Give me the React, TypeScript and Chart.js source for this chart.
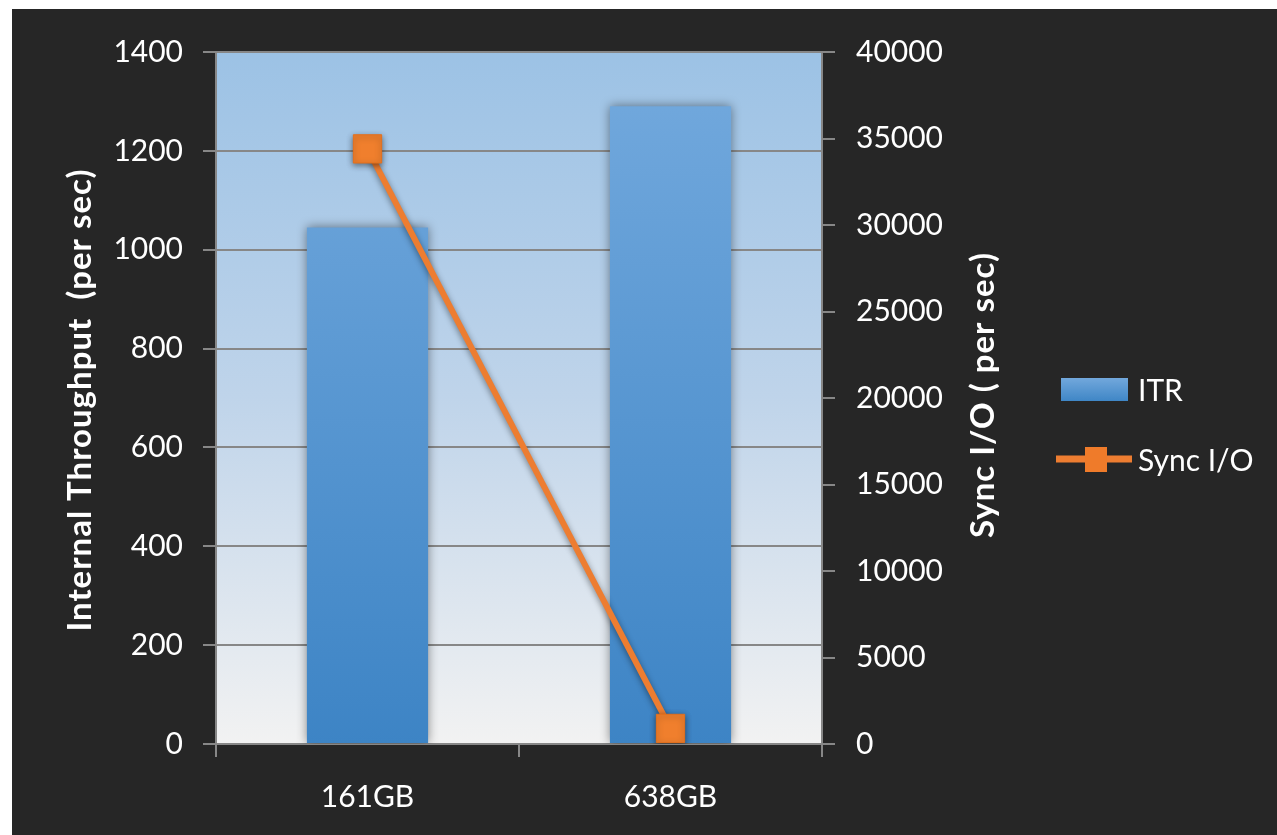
import React, { useEffect, useRef } from "react";
import { Chart, registerables } from "chart.js";

Chart.register(...registerables);

const categories = ["161GB", "638GB"];
const itrValues = [1045, 1290];
const syncIoValues = [34400, 900];
const leftTicks = [0, 200, 400, 600, 800, 1000, 1200, 1400];
const rightTicks = [0, 5000, 10000, 15000, 20000, 25000, 30000, 35000, 40000];

const W = 1265;
const H = 826;
const FONT = "Lato, 'Open Sans', sans-serif";
const GRID = "#878787";

const plotBg = {
  id: "plotBg",
  beforeDraw(chart: any) {
    const { ctx, chartArea: a } = chart;
    if (!a) return;
    const g = ctx.createLinearGradient(0, a.top, 0, a.bottom);
    g.addColorStop(0, "#9CC2E5");
    g.addColorStop(0.5, "#BFD4EA");
    g.addColorStop(1, "#F2F2F2");
    ctx.save();
    ctx.fillStyle = g;
    ctx.fillRect(a.left, a.top, a.right - a.left, a.bottom - a.top);
    ctx.restore();
  },
};

const shadows = {
  id: "shadows",
  beforeDatasetDraw(chart: any, args: any) {
    const ctx = chart.ctx;
    ctx.save();
    ctx.shadowColor = "rgba(0,0,0,0.45)";
    ctx.shadowBlur = args.index === 0 ? 10 : 6;
    ctx.shadowOffsetX = 0;
    ctx.shadowOffsetY = args.index === 0 ? 0 : 2;
  },
  afterDatasetDraw(chart: any) {
    chart.ctx.restore();
  },
};

const extras = {
  id: "extras",
  afterDraw(chart: any) {
    const { ctx } = chart;
    ctx.save();
    ctx.fillStyle = "#FFFFFF";
    ctx.textAlign = "center";
    ctx.textBaseline = "middle";
    ctx.font = `bold 33px ${FONT}`;
    try {
      (ctx as any).letterSpacing = "1px";
    } catch (e) {}
    ctx.save();
    ctx.translate(68, 391);
    ctx.rotate(-Math.PI / 2);
    ctx.fillText("Internal Throughput  (per sec)", 0, 0);
    ctx.restore();
    ctx.save();
    ctx.translate(971, 386);
    ctx.rotate(-Math.PI / 2);
    ctx.fillText("Sync I/O ( per sec)", 0, 0);
    ctx.restore();
    try {
      (ctx as any).letterSpacing = "0px";
    } catch (e) {}

    ctx.textAlign = "left";
    ctx.font = `30px ${FONT}`;
    const g = ctx.createLinearGradient(0, 369, 0, 392);
    g.addColorStop(0, "#72A8DC");
    g.addColorStop(1, "#3F86C6");
    ctx.fillStyle = g;
    ctx.fillRect(1049, 369, 67, 23);
    ctx.fillStyle = "#FFFFFF";
    ctx.fillText("ITR", 1126, 382);

    ctx.strokeStyle = "#ED7D31";
    ctx.lineWidth = 7;
    ctx.beginPath();
    ctx.moveTo(1044, 450);
    ctx.lineTo(1120, 450);
    ctx.stroke();
    ctx.fillStyle = "#EF7B2A";
    ctx.fillRect(1073, 438, 22, 25);
    ctx.fillStyle = "#FFFFFF";
    ctx.fillText("Sync I/O", 1126, 452);
    ctx.restore();
  },
};

export default function App() {
  const ref = useRef<HTMLCanvasElement | null>(null);

  useEffect(() => {
    if (!ref.current) return;
    const chart = new Chart(ref.current, {
      data: {
        labels: categories,
        datasets: [
          {
            type: "bar",
            label: "ITR",
            data: itrValues,
            yAxisID: "y",
            order: 1,
            barPercentage: 0.4,
            categoryPercentage: 1,
            backgroundColor: (c: any) => {
              const a = c.chart.chartArea;
              if (!a) return "#5B9BD5";
              const g = c.chart.ctx.createLinearGradient(0, a.top, 0, a.bottom);
              g.addColorStop(0, "#74AADE");
              g.addColorStop(1, "#3D84C5");
              return g;
            },
            borderWidth: 0,
          },
          {
            type: "line",
            label: "Sync I/O",
            data: syncIoValues,
            yAxisID: "y1",
            order: 0,
            borderColor: "#ED7D31",
            borderWidth: 6,
            pointStyle: "rect",
            pointRadius: 20,
            pointBackgroundColor: "#F07F2D",
            pointBorderColor: "#E5701C",
            pointBorderWidth: 1,
            tension: 0,
          },
        ],
      } as any,
      options: {
        animation: false,
        responsive: false,
        maintainAspectRatio: false,
        layout: { padding: { top: 43, left: 0, right: 0, bottom: 0 } },
        plugins: {
          legend: { display: false },
          tooltip: { enabled: false },
          title: { display: false },
        },
        scales: {
          x: {
            offset: true,
            afterFit: (s: any) => {
              s.height = 91;
            },
            grid: {
              offset: true,
              drawOnChartArea: false,
              drawTicks: true,
              tickLength: 13,
              color: GRID,
              lineWidth: 2,
            },
            border: { display: true, color: GRID, width: 2 },
            ticks: {
              color: "#FFFFFF",
              font: { family: FONT, size: 30 },
              padding: 22,
            },
          },
          y: {
            position: "left",
            min: 0,
            max: 1400,
            afterFit: (s: any) => {
              s.width = 204;
            },
            afterBuildTicks: (s: any) => {
              s.ticks = leftTicks.map((v) => ({ value: v }));
            },
            grid: {
              drawOnChartArea: true,
              drawTicks: true,
              tickLength: 13,
              color: GRID,
              lineWidth: 2,
            },
            border: { display: true, color: GRID, width: 2 },
            ticks: {
              color: "#FFFFFF",
              font: { family: FONT, size: 30 },
              padding: 20,
              callback: (v: any) => String(v),
            },
          },
          y1: {
            position: "right",
            min: 0,
            max: 40000,
            afterFit: (s: any) => {
              s.width = 455;
            },
            afterBuildTicks: (s: any) => {
              s.ticks = rightTicks.map((v) => ({ value: v }));
            },
            grid: {
              drawOnChartArea: false,
              drawTicks: true,
              tickLength: 13,
              color: GRID,
              lineWidth: 2,
            },
            border: { display: true, color: GRID, width: 2 },
            ticks: {
              color: "#FFFFFF",
              font: { family: FONT, size: 30 },
              padding: 21,
              callback: (v: any) => String(v),
            },
          },
        },
      } as any,
      plugins: [plotBg, shadows, extras],
    });
    return () => chart.destroy();
  }, []);

  return (
    <div
      style={{
        position: "absolute",
        left: 12,
        top: 9,
        width: W,
        height: H,
        background: "#262626",
      }}
    >
      <canvas ref={ref} width={W} height={H} style={{ display: "block" }} />
    </div>
  );
}
